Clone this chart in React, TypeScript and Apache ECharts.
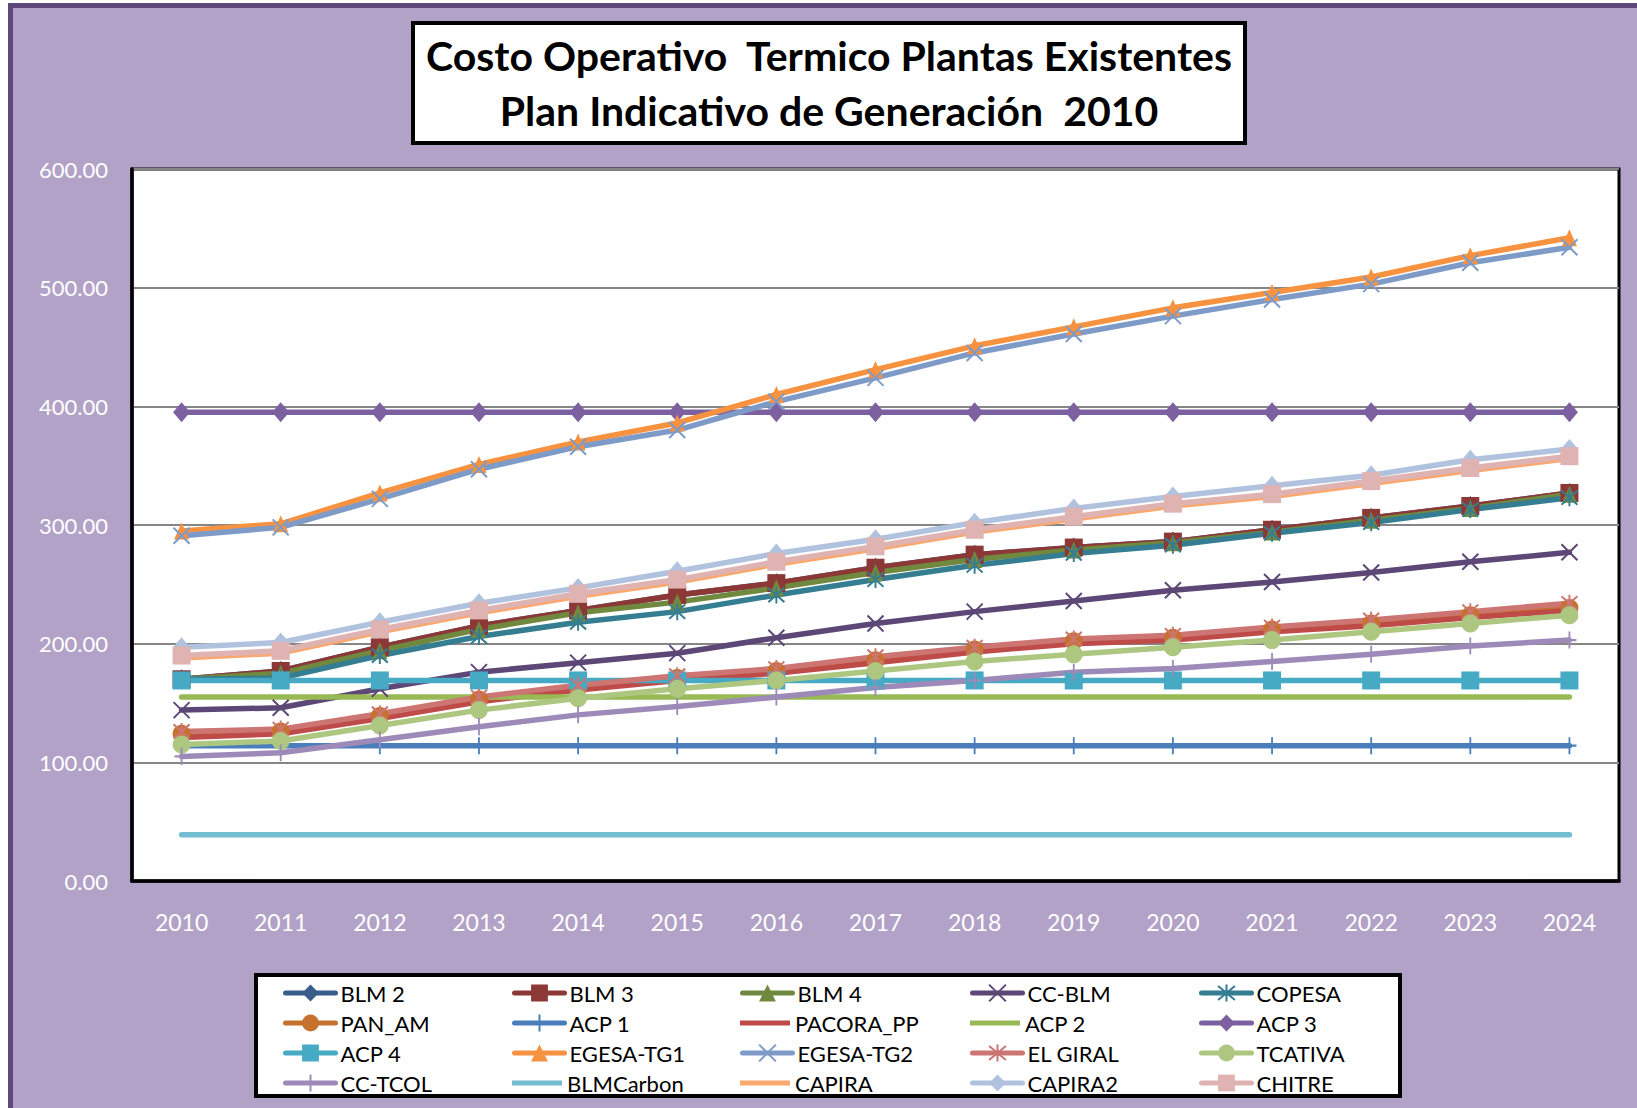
import React, { useEffect, useRef } from "react";
import * as echarts from "echarts";

const years = ["2010","2011","2012","2013","2014","2015","2016","2017","2018","2019","2020","2021","2022","2023","2024"];
const yTicks = [0, 100, 200, 300, 400, 500, 600];

const blm2 = [170, 177, 197, 215, 228, 241, 251, 264, 275, 281, 286, 296, 306, 316, 327];
const blm3 = [170, 177, 197, 215, 228, 241, 251, 264, 275, 281, 286, 296, 306, 316, 327];
const blm4 = [170, 175, 194, 212, 226, 235, 247, 260, 271, 279, 285, 294, 304, 314, 326];
const ccBlm = [144, 146, 162, 176, 184, 192, 205, 217, 227, 236, 245, 252, 260, 269, 277];
const copesa = [170, 171, 190, 206, 218, 227, 241, 254, 266, 276, 283, 293, 302, 313, 323];
const panAm = [124, 126, 139, 153, 163, 171, 177, 186, 195, 202, 205, 212, 217, 224, 230];
const acp1 = [114, 114, 114, 114, 114, 114, 114, 114, 114, 114, 114, 114, 114, 114, 114];
const pacoraPP = [121, 124, 137, 151, 161, 169, 175, 184, 193, 200, 203, 210, 215, 222, 228];
const acp2 = [155, 155, 155, 155, 155, 155, 155, 155, 155, 155, 155, 155, 155, 155, 155];
const acp3 = [395, 395, 395, 395, 395, 395, 395, 395, 395, 395, 395, 395, 395, 395, 395];
const acp4 = [169, 169, 169, 169, 169, 169, 169, 169, 169, 169, 169, 169, 169, 169, 169];
const egesaTg1 = [295, 301, 327, 351, 370, 386, 410, 431, 451, 467, 483, 496, 509, 527, 542];
const egesaTg2 = [291, 298, 322, 347, 366, 380, 404, 424, 445, 461, 476, 490, 503, 521, 534];
const elGiral = [126, 128, 141, 155, 165, 173, 179, 189, 197, 204, 207, 214, 220, 227, 234];
const tcativa = [115, 118, 131, 144, 154, 162, 169, 177, 185, 191, 197, 203, 210, 217, 224];
const ccTcol = [105, 108, 119, 130, 140, 147, 155, 163, 169, 176, 179, 185, 191, 198, 203];
const blmCarbon = [39, 39, 39, 39, 39, 39, 39, 39, 39, 39, 39, 39, 39, 39, 39];
const capira = [188, 192, 210, 226, 240, 252, 267, 280, 294, 305, 316, 324, 335, 346, 356];
const capira2 = [197, 201, 218, 234, 247, 261, 276, 288, 302, 314, 324, 333, 342, 355, 364];
const chitre = [190, 194, 212, 228, 242, 254, 269, 282, 296, 307, 318, 326, 337, 348, 358];

const seriesNames = ["BLM 2","BLM 3","BLM 4","CC-BLM","COPESA","PAN_AM","ACP 1","PACORA_PP","ACP 2","ACP 3","ACP 4","EGESA-TG1","EGESA-TG2","EL GIRAL","TCATIVA","CC-TCOL","BLMCarbon","CAPIRA","CAPIRA2","CHITRE"];
const seriesData = [blm2, blm3, blm4, ccBlm, copesa, panAm, acp1, pacoraPP, acp2, acp3, acp4, egesaTg1, egesaTg2, elGiral, tcativa, ccTcol, blmCarbon, capira, capira2, chitre];
const seriesColors = ["#385D8A","#8C3836","#71893F","#5C4776","#357D91","#C6712E","#4A7EBB","#BE4B48","#98B954","#7D60A0","#46AAC5","#F69240","#7E9BC8","#CC7572","#ADC781","#9D8AB9","#73BCD1","#F9A86F","#B0C2DE","#DFB3B2"];
const seriesMarkers = ["diamond","rect","triangle","x","star","circle","plus","dash","dash","diamond","rect","triangle","x","star","circle","plus","dash","dash","diamond","rect"];

const FONT = "Lato, 'Open Sans', sans-serif";

const markerDef = (m: string) => {
  switch (m) {
    case "diamond": return { symbol: "diamond", size: [17, 20], stroke: false, show: true };
    case "rect": return { symbol: "rect", size: [18, 18], stroke: false, show: true };
    case "triangle": return { symbol: "triangle", size: [15, 17], stroke: false, show: true };
    case "circle": return { symbol: "circle", size: [18, 18], stroke: false, show: true };
    case "x": return { symbol: "path://M0,0L10,10M10,0L0,10", size: [16, 16], stroke: true, show: true };
    case "star": return { symbol: "path://M0,0L10,10M10,0L0,10M5,-1L5,11", size: [16, 17], stroke: true, show: true };
    case "plus": return { symbol: "path://M5,0L5,10M0,5L10,5", size: [14, 17], stroke: true, show: true };
    default: return { symbol: "path://M0,4.8L10,4.8L10,5.2L0,5.2Z", size: [10, 1], stroke: false, show: false };
  }
};

const legendColX = [283, 512, 740, 970, 1199];
const legendRowY = [993, 1023, 1053, 1083];
const LINE_ICON = "path://M0,0L50,0L50,5L0,5Z";

export default function App() {
  const ref = useRef<HTMLDivElement>(null);
  useEffect(() => {
    if (!ref.current) return;
    const chart = echarts.init(ref.current, undefined, { renderer: "svg" });
    const series = seriesNames.map((name, i) => {
      const mk = markerDef(seriesMarkers[i]);
      const c = seriesColors[i];
      return {
        name,
        type: "line",
        data: seriesData[i],
        symbol: mk.symbol,
        symbolSize: mk.size,
        showSymbol: mk.show,
        lineStyle: { color: c, width: 5.5, cap: "round", join: "round" },
        itemStyle: mk.stroke
          ? { color: c, borderColor: c, borderWidth: 2 }
          : { color: c, borderWidth: 0 },
        emphasis: { disabled: true },
        z: 2,
      };
    });
    const legends = seriesNames.map((name, i) => ({
      data: [seriesMarkers[i] === "dash" ? { name, icon: LINE_ICON } : name],
      left: legendColX[i % 5],
      top: legendRowY[Math.floor(i / 5)] - 11,
      padding: 0,
      itemWidth: 50,
      itemHeight: 21,
      itemGap: 5,
      symbolKeepAspect: true,
      selectedMode: false,
      lineStyle: { width: 5 },
      textStyle: { fontSize: 22, color: "#000", fontFamily: FONT, lineHeight: 22 },
    }));
    chart.setOption({
      animation: false,
      textStyle: { fontFamily: FONT },
      graphic: [
        {
          type: "rect",
          z: 1,
          shape: { x: 413, y: 23, width: 832, height: 120 },
          style: { fill: "#fff", stroke: "#000", lineWidth: 4 },
        },
        {
          type: "text",
          z: 2,
          x: 829,
          y: 55,
          style: {
            text: "Costo Operativo  Termico Plantas Existentes",
            fontSize: 41,
            fontWeight: "bold",
            fontFamily: FONT,
            fill: "#000",
            align: "center",
            verticalAlign: "middle",
          },
        },
        {
          type: "text",
          z: 2,
          x: 829,
          y: 110,
          style: {
            text: "Plan Indicativo de Generación  2010",
            fontSize: 41,
            fontWeight: "bold",
            fontFamily: FONT,
            fill: "#000",
            align: "center",
            verticalAlign: "middle",
          },
        },
        {
          type: "rect",
          z: 1,
          shape: { x: 256, y: 975, width: 1144, height: 121 },
          style: { fill: "#fff", stroke: "#000", lineWidth: 4 },
        },
      ],
      grid: {
        left: 132,
        right: 18,
        top: 169,
        bottom: 227,
        show: true,
        backgroundColor: "#fff",
        borderColor: "#000",
        borderWidth: 3,
      },
      legend: legends,
      xAxis: {
        type: "category",
        data: years,
        boundaryGap: true,
        axisLine: { show: true, lineStyle: { color: "#000", width: 3.5 } },
        axisTick: { show: false },
        axisLabel: { color: "#fff", fontSize: 23, margin: 29, fontFamily: FONT },
        splitLine: { show: false },
      },
      yAxis: {
        type: "value",
        min: yTicks[0],
        max: yTicks[yTicks.length - 1],
        interval: 100,
        axisLine: { show: true, lineStyle: { color: "#000", width: 3.5 } },
        axisTick: { show: false },
        axisLabel: {
          color: "#fff",
          fontSize: 22,
          margin: 24,
          fontFamily: FONT,
          formatter: (v: number) => v.toFixed(2),
        },
        splitLine: { show: true, lineStyle: { color: "#868686", width: 2 } },
      },
      series,
    });
    return () => chart.dispose();
  }, []);

  return (
    <div style={{ position: "fixed", left: 0, top: 0, width: 1637, height: 1108, overflow: "hidden", background: "#fff" }}>
      <div
        style={{
          position: "absolute",
          left: 8,
          top: 3,
          width: 2000,
          height: 2000,
          background: "#B3A2C7",
          border: "5px solid #5F497A",
          boxSizing: "border-box",
        }}
      />
      <div ref={ref} style={{ position: "absolute", left: 0, top: 0, width: 1637, height: 1108 }} />
    </div>
  );
}
